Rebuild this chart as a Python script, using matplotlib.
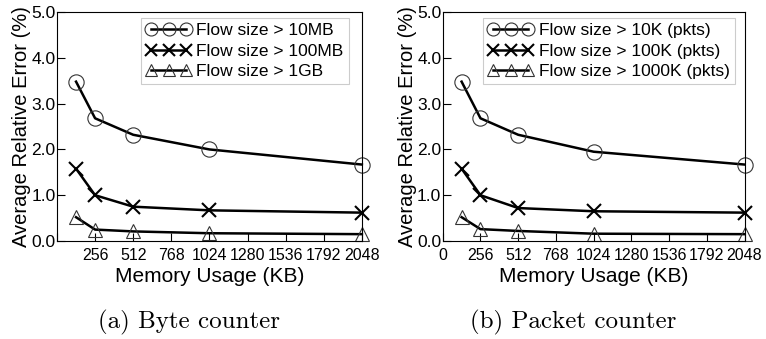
import matplotlib
matplotlib.use("Agg")
import matplotlib.pyplot as plt

# memory sizes (KB)
mem = [128, 256, 512, 1024, 2048]

# (a) byte counter
byte_10mb = [3.48, 2.68, 2.32, 2.00, 1.67]
byte_100mb = [1.58, 1.00, 0.75, 0.67, 0.62]
byte_1gb = [0.52, 0.25, 0.21, 0.17, 0.15]
byte_labels = ["Flow size > 10MB", "Flow size > 100MB", "Flow size > 1GB"]

# (b) packet counter
pkt_10k = [3.48, 2.68, 2.32, 1.95, 1.67]
pkt_100k = [1.58, 1.00, 0.72, 0.65, 0.62]
pkt_1000k = [0.52, 0.26, 0.22, 0.16, 0.15]
pkt_labels = ["Flow size > 10K (pkts)", "Flow size > 100K (pkts)", "Flow size > 1000K (pkts)"]

xticks = [0, 256, 512, 768, 1024, 1280, 1536, 1792, 2048]
yticks = [0.0, 1.0, 2.0, 3.0, 4.0, 5.0]

plt.rcParams['font.family'] = ['Liberation Sans', 'DejaVu Sans']

fig = plt.figure(figsize=(7.66, 3.39), dpi=100)
axA = fig.add_axes([0.0744, 0.289, 0.398, 0.6755])
axB = fig.add_axes([0.578, 0.289, 0.394, 0.6755])

markers = ['o', 'x', '^']
msizes = [11, 10, 10]


def draw(ax, series, labels, show_zero, bbox):
    for ys, lab, m, ms in zip(series, labels, markers, msizes):
        if m == 'x':
            ax.plot(mem, ys, color='black', lw=1.8, marker=m, ms=ms,
                    mew=1.5, label=lab, clip_on=False)
        else:
            ax.plot(mem, ys, color='black', lw=1.8, marker=m, ms=ms,
                    mfc='none', mec='#333333', mew=0.8, label=lab, clip_on=False)
    ax.set_xlim(0, 2048)
    ax.set_ylim(0, 5.0)
    ax.set_xticks(xticks)
    if show_zero:
        ax.set_xticklabels([str(x) for x in xticks])
    else:
        ax.set_xticklabels([''] + [str(x) for x in xticks[1:]])
    ax.set_yticks(yticks)
    ax.set_yticklabels(["%.1f" % y for y in yticks])
    ax.tick_params(direction='in', length=6, width=0.8, labelsize=11.5, pad=1)
    ax.tick_params(axis='y', labelsize=12.5)
    ax.tick_params(axis='x', pad=5)
    for s in ax.spines.values():
        s.set_linewidth(0.8)
    ax.set_xlabel("Memory Usage (KB)", fontsize=15, labelpad=3)
    ax.set_ylabel("Average Relative Error (%)", fontsize=14.5, labelpad=0)
    leg = ax.legend(loc='upper right', bbox_to_anchor=bbox, numpoints=3,
                    handlelength=2.6, handletextpad=0.3, fontsize=12.5,
                    markerscale=0.85,
                    fancybox=False, framealpha=1, edgecolor='#cccccc',
                    borderaxespad=0, labelspacing=0.3, borderpad=0.3)
    leg.get_frame().set_linewidth(0.8)


draw(axA, [byte_10mb, byte_100mb, byte_1gb], byte_labels, False, (0.957, 0.974))
draw(axB, [pkt_10k, pkt_100k, pkt_1000k], pkt_labels, True, (0.967, 0.974))

fig.text(0.247, 0.05, "(a) Byte counter", fontsize=18, family='cmr10',
         ha='center', va='center')
fig.text(0.748, 0.05, "(b) Packet counter", fontsize=18, family='cmr10',
         ha='center', va='center')

fig.savefig("out.png", dpi=100)
